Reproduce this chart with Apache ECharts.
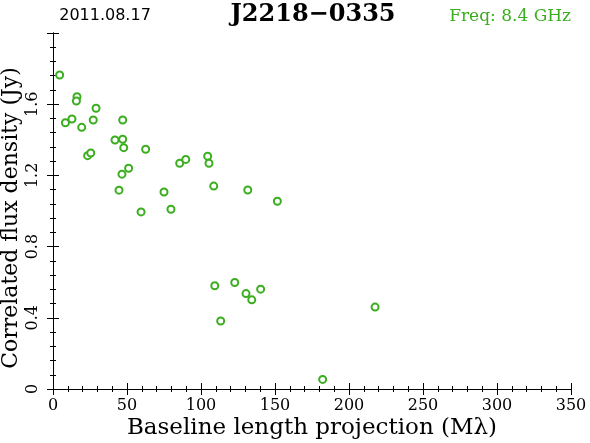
<!DOCTYPE html>
<html>
<head>
<meta charset="utf-8">
<script src="https://cdn.jsdelivr.net/npm/echarts@6/dist/echarts.min.js"></script>
<style>html,body{margin:0;padding:0;background:#fff}#c{width:590px;height:443px}</style>
</head>
<body>
<div id="c"></div>
<script>
const baseline = [4.5, 8.4, 12.8, 16.2, 15.8, 19.4, 23.4, 25.5, 27.2, 29.1, 41.9, 47.1, 47.1, 47.8, 46.6, 44.6, 51.1, 59.5, 62.6, 75.0, 79.7, 85.6, 89.7, 104.5, 105.4, 108.6, 131.6, 151.6, 109.3, 122.8, 130.4, 134.3, 140.3, 113.3, 182.2, 217.6];
const flux = [1.764, 1.496, 1.517, 1.642, 1.618, 1.470, 1.311, 1.326, 1.511, 1.577, 1.399, 1.403, 1.511, 1.356, 1.207, 1.117, 1.240, 0.995, 1.347, 1.107, 1.010, 1.268, 1.290, 1.308, 1.268, 1.140, 1.118, 1.055, 0.580, 0.598, 0.536, 0.501, 0.561, 0.382, 0.054, 0.460];
const xTicks = [0, 50, 100, 150, 200, 250, 300, 350];
const yTicks = [0, 0.4, 0.8, 1.2, 1.6];
const dateText = '2011.08.17';
const sourceText = 'J2218\u22120335';
const freqText = 'Freq: 8.4 GHz';

const green = '#3aae1e';
const pts = baseline.map((x, i) => [x, flux[i]]);
const serif = '"DejaVu Serif", "Liberation Serif", serif';

const tickCommon = {
  axisLine: {show: true, lineStyle: {color: '#000', width: 1}},
  axisTick: {show: true, inside: false, length: 6, lineStyle: {color: '#000'}},
  minorTick: {show: true, splitNumber: 5, length: 3, lineStyle: {color: '#000'}},
  splitLine: {show: false}
};

const chart = echarts.init(document.getElementById('c'));
chart.setOption({
  animation: false,
  backgroundColor: '#fff',
  title: [
    {text: dateText, left: 100, top: 3, textAlign: 'center',
     textStyle: {fontFamily: '"DejaVu Sans", sans-serif', fontSize: 16, fontWeight: 'normal', color: '#000'}},
    {text: sourceText, left: 308, top: -2, textAlign: 'center',
     textStyle: {fontFamily: serif, fontSize: 24, fontWeight: 'bold', color: '#000'}},
    {text: freqText, right: 14, top: 3,
     textStyle: {fontFamily: serif, fontSize: 17, fontWeight: 'normal', color: green}}
  ],
  grid: {left: 53, right: 19, top: 33, bottom: 54, containLabel: false, outerBoundsMode: 'none'},
  xAxis: [
    Object.assign({
      type: 'value', min: 0, max: 350, interval: 50, position: 'bottom',
      name: 'Baseline length projection (M\u03bb)', nameLocation: 'middle', nameGap: 28,
      nameMoveOverlap: false,
      nameTextStyle: {fontFamily: serif, fontSize: 23, color: '#000', verticalAlign: 'top'},
      axisLabel: {show: true, fontFamily: serif, fontSize: 16, color: '#000', margin: 9,
        formatter: v => xTicks.includes(v) ? String(v) : ''}
    }, tickCommon),
    Object.assign({
      type: 'value', min: 0, max: 350, interval: 50, position: 'top',
      axisLabel: {show: false}
    }, tickCommon)
  ],
  yAxis: [
    Object.assign({
      type: 'value', min: 0, max: 2.0, interval: 0.4, position: 'left',
      name: 'Correlated flux density (Jy)', nameLocation: 'middle', nameGap: 31,
      nameMoveOverlap: false,
      nameTextStyle: {fontFamily: serif, fontSize: 22, color: '#000', padding: [0, 14, 0, 0]},
      axisLabel: {show: true, rotate: 90, fontFamily: serif, fontSize: 16, color: '#000', margin: 12,
        formatter: v => { const t = yTicks.find(k => Math.abs(k - v) < 1e-6); return t === undefined ? '' : String(t); }}
    }, tickCommon),
    Object.assign({
      type: 'value', min: 0, max: 2.0, interval: 0.4, position: 'right',
      axisLabel: {show: false}
    }, tickCommon)
  ],
  series: [{
    type: 'scatter',
    xAxisIndex: 0, yAxisIndex: 0,
    data: pts,
    symbol: 'circle',
    symbolSize: 7,
    itemStyle: {color: '#fff', borderColor: green, borderWidth: 2, opacity: 1}
  }]
});
</script>
</body>
</html>
